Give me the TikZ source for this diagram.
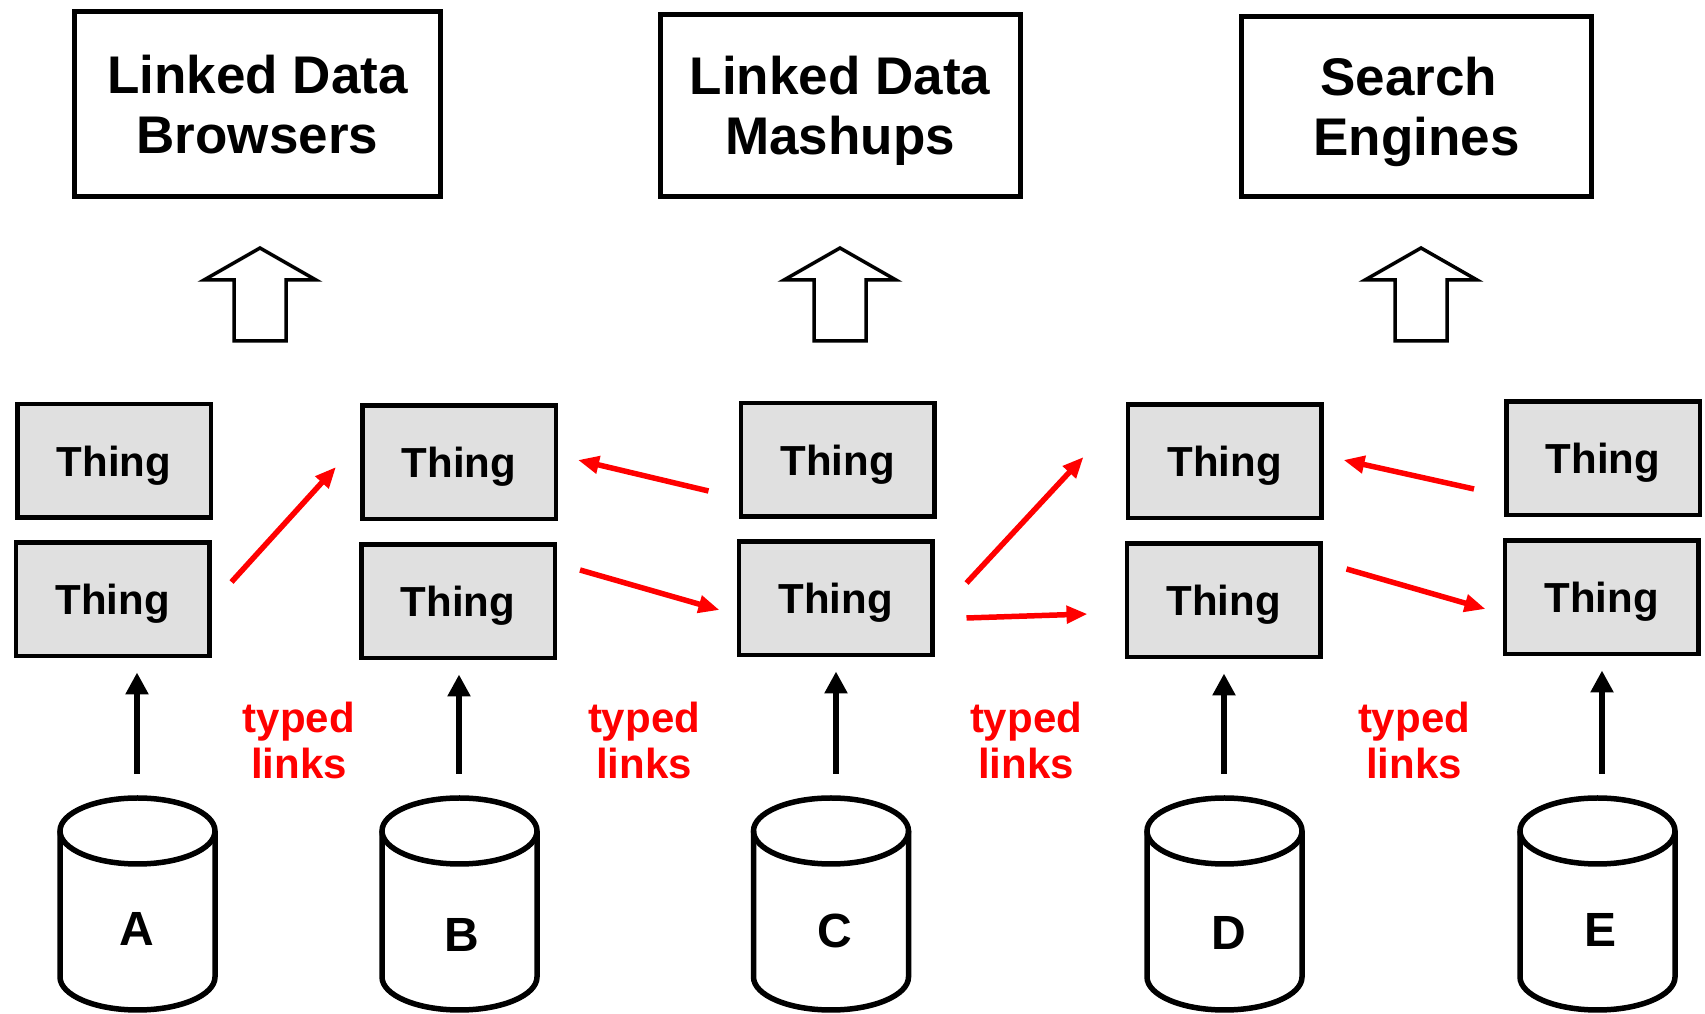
\documentclass[tikz,border=0pt]{standalone}
\usepackage{fontspec}
\setmainfont{Liberation Sans}
\usetikzlibrary{arrows.meta}
\definecolor{thinggray}{RGB}{224,224,224}
\tikzstyle{app} = [draw, line width=5pt, align=center, inner sep=0pt, text depth=0pt, font=\fontsize{53}{60}\selectfont\bfseries]
\tikzstyle{thing} = [draw, fill=thinggray, line width=4.5pt, minimum width=193.5pt, minimum height=113.5pt, inner sep=0pt, text depth=0pt, font=\fontsize{42}{48}\selectfont\bfseries]
\tikzstyle{link} = [red, line width=5.5pt, -{Triangle[length=21pt,width=17pt]}]
\tikzstyle{feed} = [line width=5.5pt, -{Triangle[length=22pt,width=22pt]}, shorten >=14pt]
\tikzstyle{hollow} = [line width=3.5pt, fill=white]
\tikzstyle{dbline} = [line width=5.5pt]
\tikzstyle{typed} = [red, align=center, inner sep=0pt, text depth=0pt, font=\fontsize{42}{46}\selectfont\bfseries]
\tikzstyle{dbname} = [inner sep=0pt, anchor=base, font=\fontsize{48}{48}\selectfont\bfseries]

\begin{document}
\begin{tikzpicture}[x=1pt, y=1pt]
\useasboundingbox (0,0) rectangle (1705,1014);

\node[app, minimum width=366pt, minimum height=185pt] (browsers) at (257.5,910) {Linked Data\\Browsers};
\node[app, minimum width=360pt, minimum height=182pt] (mashups) at (840,908.5) {Linked Data\\Mashups};
\node[app, minimum width=350pt, minimum height=180pt] (engines) at (1416.5,907.5) {Search\kern15pt\\Engines};

\foreach \hx in {260,840,1421}
  \draw[hollow] (\hx-26,673) -- (\hx-26,734) -- (\hx-56,734) -- (\hx,766)
    -- (\hx+56,734) -- (\hx+26,734) -- (\hx+26,673) -- cycle;

\node[thing] (tA1) at (114,553) {Thing};
\node[thing] (tA2) at (112.5,414.5) {Thing};
\node[thing] (tB1) at (459,551.5) {Thing};
\node[thing] (tB2) at (458,412.5) {Thing};
\node[thing] (tC1) at (837.5,554) {Thing};
\node[thing] (tC2) at (835.5,415.5) {Thing};
\node[thing] (tD1) at (1224.5,552.5) {Thing};
\node[thing] (tD2) at (1223.5,413.5) {Thing};
\node[thing] (tE1) at (1603,555.5) {Thing};
\node[thing] (tE2) at (1601.5,416.5) {Thing};

\draw[link] ([shift={(20,17.5)}]tA2.east) -- ([shift={(-24,-4.5)}]tB1.west);
\draw[link] ([shift={(-30,-31)}]tC1.west) -- ([shift={(20,2.5)}]tB1.east);
\draw[link] ([shift={(23,31.5)}]tB2.east) -- ([shift={(-17,-11.5)}]tC2.west);
\draw[link] ([shift={(32,15.5)}]tC2.east) -- ([shift={(-42,4.5)}]tD1.west);
\draw[link] ([shift={(32,-19.5)}]tC2.east) -- ([shift={(-37,-13.5)}]tD2.west);
\draw[link] ([shift={(-30,-30.5)}]tE1.west) -- ([shift={(20,1.5)}]tD1.east);
\draw[link] ([shift={(24,31.5)}]tD2.east) -- ([shift={(-17,-11.5)}]tE2.west);

\node[typed] (typedAB) at (299,274) {typed\\links};
\node[typed] (typedBC) at (644,274) {typed\\links};
\node[typed] (typedCD) at (1026,274) {typed\\links};
\node[typed] (typedDE) at (1414,274) {typed\\links};

\foreach \n/\cx/\ax/\lx/\ly in {A/137.5/137/137/68, B/459.5/459/462/62, C/831/836/835/66, D/1224.5/1224/1229/64, E/1597.5/1602/1600/67}
{
  \draw[dbline] (\cx,183) ellipse[x radius=77.5, y radius=33];
  \draw[dbline] (\cx-77.5,183) -- (\cx-77.5,37)
    arc[start angle=180, end angle=360, x radius=77.5, y radius=33] -- (\cx+77.5,183);
  \node[dbname] (db\n) at (\lx,\ly) {\n};
  \coordinate (src\n) at (\ax,240);
  \draw[feed] (src\n) -- (src\n |- t\n2.south);
}
\end{tikzpicture}
\end{document}
